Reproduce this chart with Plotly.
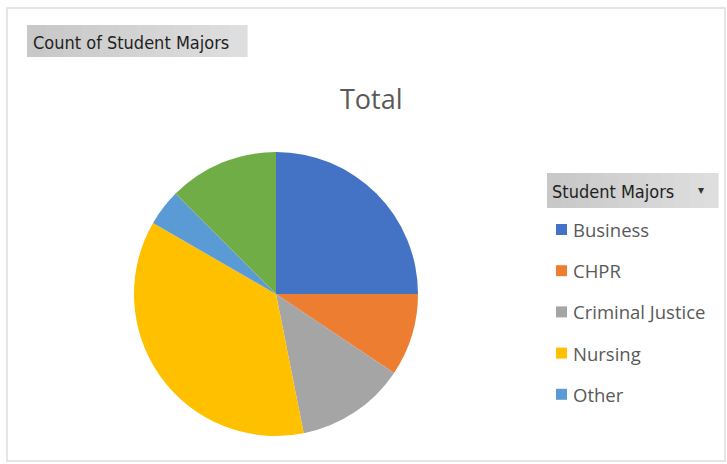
import plotly.graph_objects as go

W, H = 727, 464

# ---- data ----
majors = ["Business", "CHPR", "Criminal Justice", "Nursing", "Other", "Undeclared"]
counts = [24, 9, 12, 35, 4, 12]
colors = ["#4472C4", "#ED7D31", "#A5A5A5", "#FFC000", "#5B9BD5", "#70AD47"]
legend_shown = 5  # legend box is clipped after the fifth entry
title_text = "Total"
field_button = "Count of Student Majors"
legend_header = "Student Majors"

def px(x):
    return x / W

def py(y):
    return 1 - y / H

cx, cy, r = 276, 294, 142

fig = go.Figure()
fig.add_trace(go.Pie(
    labels=majors,
    values=counts,
    marker=dict(colors=colors, line=dict(width=0)),
    sort=False,
    direction="clockwise",
    rotation=0,
    textinfo="none",
    hoverinfo="label+value+percent",
    showlegend=False,
    domain=dict(x=[px(cx - r), px(cx + r)], y=[py(cy + r), py(cy - r)]),
))

shapes = []
annotations = []

# chart area border
shapes.append(dict(type="rect", xref="paper", yref="paper",
                   x0=px(7), x1=px(725), y0=py(461), y1=py(8),
                   line=dict(color="#DDDDDD", width=1.5), fillcolor="rgba(0,0,0,0)"))

def gradient_button(x0, x1, y0, y1, c_left=200, c_right=222, steps=12):
    w = (x1 - x0) / steps
    for k in range(steps):
        c = int(c_left + (c_right - c_left) * k / (steps - 1))
        shapes.append(dict(type="rect", xref="paper", yref="paper",
                           x0=px(x0 + k * w), x1=px(x0 + (k + 1) * w + 0.6),
                           y0=py(y1), y1=py(y0),
                           line=dict(width=0), fillcolor=f"rgb({c},{c},{c})", layer="below"))

# field button (top-left)
gradient_button(27, 247, 25, 57)
annotations.append(dict(text=field_button, xref="paper", yref="paper",
                        x=px(31), y=py(42), xanchor="left", yanchor="middle",
                        showarrow=False,
                        font=dict(family="DejaVu Sans Condensed", size=18, color="#1F1F1F")))

# title
annotations.append(dict(text=title_text, xref="paper", yref="paper",
                        x=px(371), y=py(98), xanchor="center", yanchor="middle",
                        showarrow=False,
                        font=dict(family="Open Sans", size=27, color="#595959")))

# legend header button
gradient_button(547, 718, 173, 208)
annotations.append(dict(text=legend_header, xref="paper", yref="paper",
                        x=px(550), y=py(191), xanchor="left", yanchor="middle",
                        showarrow=False,
                        font=dict(family="DejaVu Sans Condensed", size=18, color="#1F1F1F")))
annotations.append(dict(text="▾", xref="paper", yref="paper",
                        x=px(701), y=py(190), xanchor="center", yanchor="middle",
                        showarrow=False,
                        font=dict(family="DejaVu Sans", size=12, color="#333333")))

# legend entries
y0_leg, step = 229.5, 41.2
for i in range(legend_shown):
    yc = y0_leg + i * step
    shapes.append(dict(type="rect", xref="paper", yref="paper",
                       x0=px(556), x1=px(567), y0=py(yc + 5.5), y1=py(yc - 5.5),
                       line=dict(width=0), fillcolor=colors[i]))
    annotations.append(dict(text=majors[i], xref="paper", yref="paper",
                            x=px(571), y=py(yc), xanchor="left", yanchor="middle",
                            showarrow=False,
                            font=dict(family="Open Sans", size=18.5, color="#595959")))

fig.update_layout(
    width=W, height=H,
    margin=dict(l=0, r=0, t=0, b=0),
    paper_bgcolor="white",
    plot_bgcolor="white",
    shapes=shapes,
    annotations=annotations,
)

fig.write_html("out.html")
